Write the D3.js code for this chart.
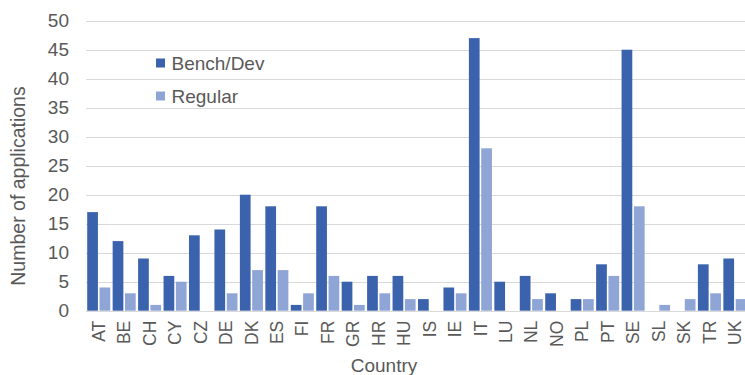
<!DOCTYPE html>
<html>
<head>
<meta charset="utf-8">
<script src="https://cdn.jsdelivr.net/npm/d3@7"></script>
<style>
  html, body { margin: 0; padding: 0; background: #ffffff; }
  svg { display: block; font-family: "Liberation Sans", Arial, sans-serif; }
</style>
</head>
<body>
<svg id="chart" width="745" height="375"></svg>
<script>
// Applications per country, split by type
const countries = ["AT","BE","CH","CY","CZ","DE","DK","ES","FI","FR","GR","HR","HU","IS","IE","IT","LU","NL","NO","PL","PT","SE","SL","SK","TR","UK"];
const benchDev  = [17,12,9,6,13,14,20,18,1,18,5,6,6,2,4,47,5,6,3,2,8,45,0,0,8,9];
const regular   = [4,3,1,5,0,3,7,7,3,6,1,3,2,0,3,28,0,2,0,2,6,18,1,2,3,2];
const seriesNames = ["Bench/Dev", "Regular"];
const yTicks = [0,5,10,15,20,25,30,35,40,45,50];

const colors = ["#3b63ad", "#8fa5d6"];
const textColor = "#595959";

const svg = d3.select("#chart");
const plotLeft = 86, plotRight = 747.6, plotTop = 20.7, plotBottom = 310.7;

const x = d3.scaleBand().domain(countries).range([plotLeft, plotRight]).padding(0);
const x1 = d3.scaleBand().domain(seriesNames).range([1.2, x.step() - 1.2]).paddingInner(0.13);
const y = d3.scaleLinear().domain([0, 50]).range([plotBottom, plotTop]);

// Gridlines
svg.append("g")
  .selectAll("line")
  .data(yTicks)
  .join("line")
  .attr("x1", plotLeft).attr("x2", 745)
  .attr("y1", d => Math.round(y(d)) + 0.5).attr("y2", d => Math.round(y(d)) + 0.5)
  .attr("stroke", "#d9d9d9").attr("stroke-width", 1);

// Y axis labels
const yAxis = d3.axisLeft(y).tickValues(yTicks).tickSize(0).tickPadding(0);
const gy = svg.append("g").attr("transform", `translate(${plotLeft - 17},0)`).call(yAxis);
gy.select(".domain").remove();
gy.selectAll("text")
  .attr("fill", textColor)
  .style("font-size", "19px")
  .style("font-family", "Liberation Sans, Arial, sans-serif");

// Bars
const rows = countries.map((c, i) => ({ country: c, values: [benchDev[i], regular[i]] }));
const groups = svg.append("g")
  .selectAll("g")
  .data(rows)
  .join("g")
  .attr("transform", d => `translate(${x(d.country)},0)`);

groups.selectAll("rect")
  .data(d => d.values.map((v, k) => ({ key: seriesNames[k], value: v, k })))
  .join("rect")
  .filter(d => d.value > 0)
  .attr("x", d => x1(d.key))
  .attr("width", x1.bandwidth())
  .attr("y", d => y(d.value))
  .attr("height", d => y(0) - y(d.value))
  .attr("fill", d => colors[d.k]);

// X axis labels (rotated)
const xAxis = d3.axisBottom(x).tickSize(0).tickPadding(0);
const gx = svg.append("g").attr("transform", `translate(0,${plotBottom + 10})`).call(xAxis);
gx.select(".domain").remove();
gx.selectAll("text")
  .attr("fill", textColor)
  .style("font-size", "17.5px")
  .style("font-family", "Liberation Sans, Arial, sans-serif")
  .attr("transform", "rotate(-90)")
  .attr("text-anchor", "end")
  .attr("x", 0)
  .attr("y", 0)
  .attr("dy", "0.35em");

// Axis titles
svg.append("text")
  .attr("transform", "translate(25,186) rotate(-90)")
  .attr("text-anchor", "middle")
  .attr("fill", textColor)
  .style("font-size", "19.5px")
  .text("Number of applications");

svg.append("text")
  .attr("x", 384).attr("y", 372)
  .attr("text-anchor", "middle")
  .attr("fill", textColor)
  .style("font-size", "19px")
  .text("Country");

// Legend
const legend = svg.append("g").attr("transform", "translate(156,0)");
const legendY = [63, 96];
seriesNames.forEach((name, k) => {
  legend.append("rect")
    .attr("x", 0).attr("y", legendY[k] - 4.5)
    .attr("width", 9).attr("height", 9)
    .attr("fill", colors[k]);
  legend.append("text")
    .attr("x", 15.5).attr("y", legendY[k])
    .attr("dy", "0.35em")
    .attr("fill", textColor)
    .style("font-size", "19px")
    .text(name);
});
</script>
</body>
</html>
